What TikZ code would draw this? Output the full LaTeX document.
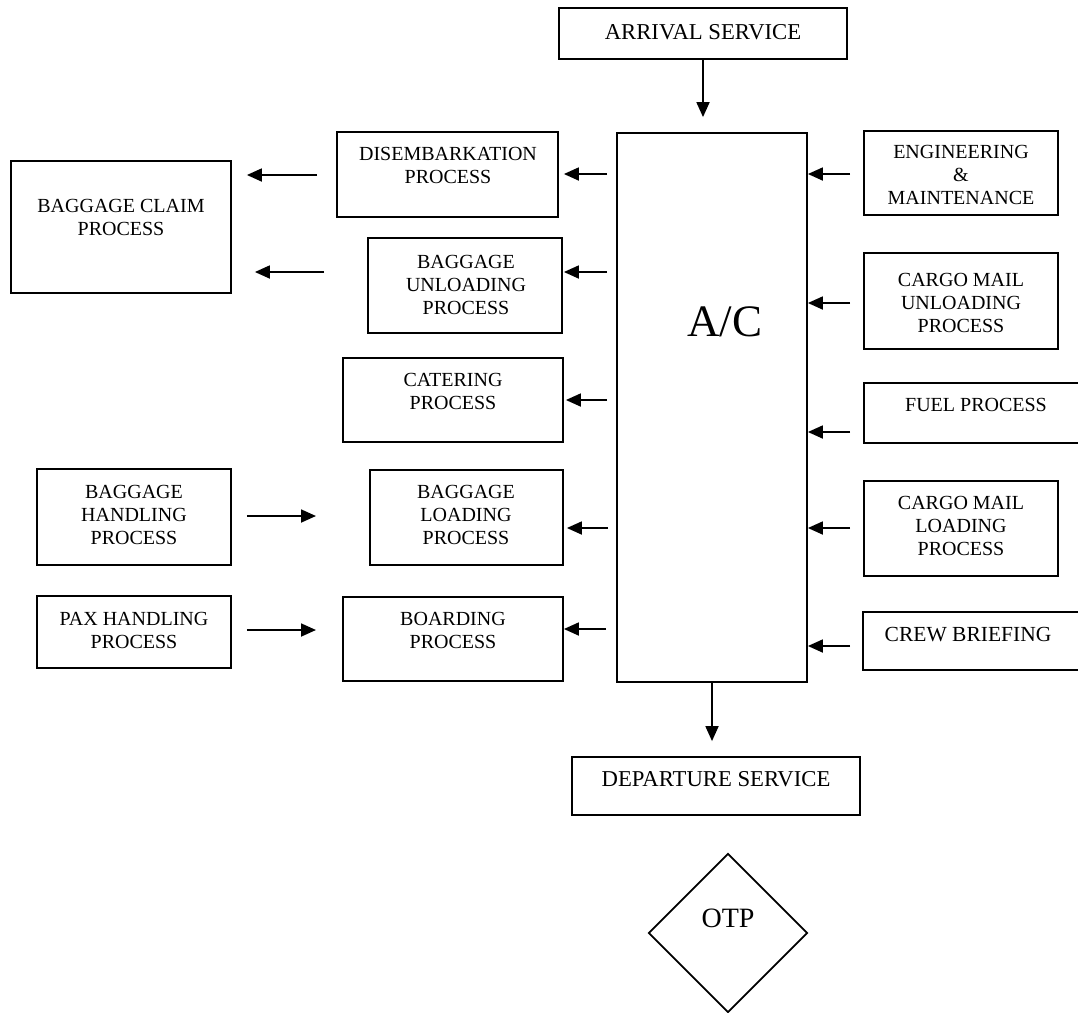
\documentclass[tikz,border=0pt]{standalone}
\usepackage{fontspec}
\setmainfont{Liberation Serif}
\usetikzlibrary{arrows.meta,shapes.geometric}
\begin{document}
\begin{tikzpicture}[x=1pt,y=-1pt,
  box/.style={draw, line width=1.8pt, inner sep=0pt},
  txt/.style={inner sep=0pt, align=center, font=\fontsize{20}{23}\selectfont},
  bigtxt/.style={inner sep=0pt, align=center, font=\fontsize{22.7}{26}\selectfont},
  arr/.style={line width=1.8pt, -{Triangle[length=15pt,width=13pt]}}]
\useasboundingbox (0,0) rectangle (1078,1012);
% boxes
\node[box, minimum width=288, minimum height=51] (arv) at (703,33.5) {};
\node[box, minimum width=190, minimum height=549] (ac) at (712,407.5) {};
\node[box, minimum width=221, minimum height=85] (dis) at (447.5,174.5) {};
\node[box, minimum width=220, minimum height=132] (claim) at (121,227) {};
\node[box, minimum width=194, minimum height=95] (unl) at (465,285.5) {};
\node[box, minimum width=220, minimum height=84] (cat) at (453,400) {};
\node[box, minimum width=194, minimum height=96] (hand) at (134,517) {};
\node[box, minimum width=193, minimum height=95] (load) at (466.5,517.5) {};
\node[box, minimum width=194, minimum height=72] (pax) at (134,632) {};
\node[box, minimum width=220, minimum height=84] (board) at (453,639) {};
\node[box, minimum width=194, minimum height=84] (eng) at (961,173) {};
\node[box, minimum width=194, minimum height=96] (cmu) at (961,301) {};
\node[box, minimum width=230, minimum height=60] (fuel) at (979,413) {};
\node[box, minimum width=194, minimum height=95] (cml) at (961,528.5) {};
\node[box, minimum width=231, minimum height=58] (crew) at (978.5,641) {};
\node[box, minimum width=288, minimum height=58] (dep) at (716,786) {};
\node[box, diamond, aspect=1, minimum width=159, minimum height=159] (otp) at (728,933) {};
% texts
\node[bigtxt] (tarv) at (703,32) {ARRIVAL SERVICE};
\node[inner sep=0pt, font=\fontsize{45}{50}\selectfont] (tac) at (725,322) {A/C};
\node[txt] (tdis) at (448,165) {DISEMBARKATION\\PROCESS};
\node[txt] (tclaim) at (121,217) {BAGGAGE CLAIM\\PROCESS};
\node[txt] (tunl) at (466,285) {BAGGAGE\\UNLOADING\\PROCESS};
\node[txt] (tcat) at (453,391.5) {CATERING\\PROCESS};
\node[txt] (thand) at (134,515) {BAGGAGE\\HANDLING\\PROCESS};
\node[txt] (tload) at (466,515) {BAGGAGE\\LOADING\\PROCESS};
\node[txt] (tpax) at (134,630) {PAX HANDLING\\PROCESS};
\node[txt] (tboard) at (453,630) {BOARDING\\PROCESS};
\node[txt] (teng) at (961,175) {ENGINEERING\\\&\\MAINTENANCE};
\node[txt] (tcmu) at (961,303) {CARGO MAIL\\UNLOADING\\PROCESS};
\node[txt] (tfuel) at (976,405) {FUEL PROCESS};
\node[txt] (tcml) at (961,526) {CARGO MAIL\\LOADING\\PROCESS};
\node[txt, font=\fontsize{21.5}{24}\selectfont] (tcrew) at (968,635) {CREW BRIEFING};
\node[bigtxt] (tdep) at (716,779) {DEPARTURE SERVICE};
\node[inner sep=0pt, font=\fontsize{28}{32}\selectfont] (totp) at (728,918) {OTP};
% vertical arrows
\draw[arr, shorten >=15pt] (arv.south) -- (arv.south |- ac.north);
\draw[arr, shorten >=15pt] (ac.south) -- (ac.south |- dep.north);
% A/C to left boxes
\coordinate (l1) at (607,174);
\coordinate (l2) at (607,272);
\coordinate (l3) at (607,400);
\coordinate (l4) at (608,528);
\coordinate (l5) at (606,629);
\draw[arr, shorten >=5pt] (l1) -- (l1 -| dis.east);
\draw[arr, shorten >=1pt] (l2) -- (l2 -| unl.east);
\draw[arr, shorten >=2pt] (l3) -- (l3 -| cat.east);
\draw[arr, shorten >=3pt] (l4) -- (l4 -| load.east);
\draw[arr] (l5) -- (l5 -| board.east);
% right boxes to A/C
\coordinate (r1) at (850,174);
\coordinate (r2) at (850,303);
\coordinate (r3) at (850,432);
\coordinate (r4) at (850,528);
\coordinate (r5) at (850,646);
\draw[arr] (r1) -- (r1 -| ac.east);
\draw[arr] (r2) -- (r2 -| ac.east);
\draw[arr] (r3) -- (r3 -| ac.east);
\draw[arr] (r4) -- (r4 -| ac.east);
\draw[arr] (r5) -- (r5 -| ac.east);
% to baggage claim
\coordinate (c1) at (317,175);
\coordinate (c2) at (324,272);
\draw[arr, shorten >=15pt] (c1) -- (c1 -| claim.east);
\draw[arr, shorten >=23pt] (c2) -- (c2 -| claim.east);
% handling arrows
\coordinate (h1) at (316,516);
\coordinate (h2) at (316,630);
\draw[arr, shorten <=15pt] (h1 -| hand.east) -- (h1);
\draw[arr, shorten <=15pt] (h2 -| pax.east) -- (h2);
\end{tikzpicture}
\end{document}
